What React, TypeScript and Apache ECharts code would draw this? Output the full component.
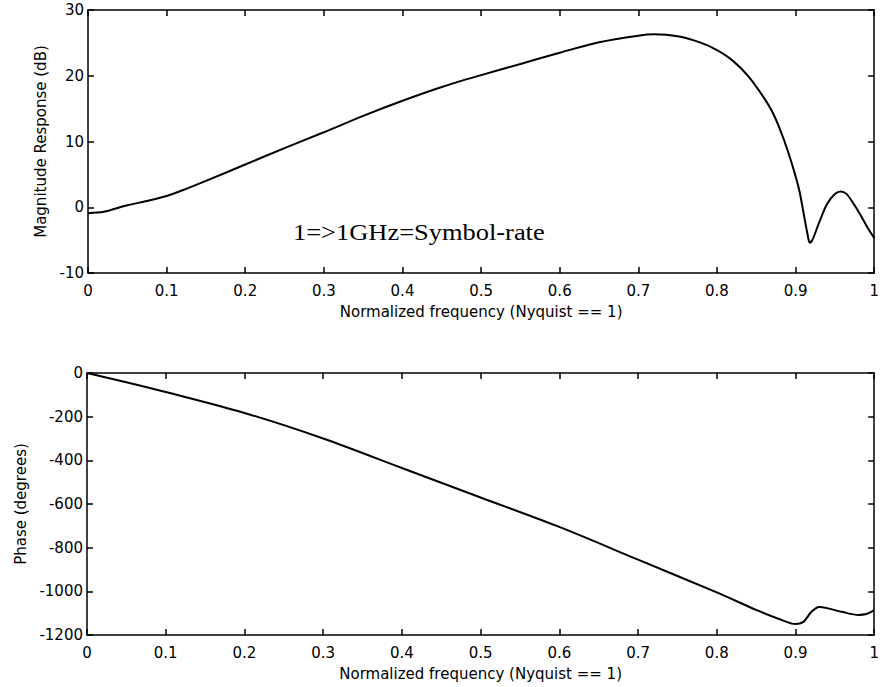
import React, { useEffect, useRef } from "react";
import * as echarts from "echarts";

const xTicks = [0, 0.1, 0.2, 0.3, 0.4, 0.5, 0.6, 0.7, 0.8, 0.9, 1];

const magFreq = [0, 0.02, 0.05, 0.075, 0.1, 0.125, 0.15, 0.2, 0.25, 0.3, 0.35, 0.4, 0.45, 0.5, 0.55, 0.6, 0.65, 0.7, 0.72, 0.75, 0.78, 0.8, 0.82, 0.84, 0.86, 0.87, 0.88, 0.89, 0.9, 0.905, 0.91, 0.915, 0.918, 0.922, 0.93, 0.94, 0.95, 0.957, 0.965, 0.975, 0.985, 0.993, 1.0];
const magDb = [-0.9, -0.7, 0.3, 0.95, 1.7, 2.8, 4.0, 6.5, 9.0, 11.4, 13.9, 16.2, 18.3, 20.1, 21.8, 23.5, 25.1, 26.1, 26.3, 26.0, 25.0, 23.9, 22.3, 19.9, 16.6, 14.6, 11.9, 8.6, 4.7, 2.4, -0.8, -4.0, -5.4, -4.8, -2.3, 0.5, 2.0, 2.4, 2.0, 0.3, -1.7, -3.4, -4.7];

const phaseFreq = [0, 0.05, 0.1, 0.2, 0.3, 0.4, 0.5, 0.6, 0.7, 0.8, 0.85, 0.88, 0.9, 0.91, 0.92, 0.93, 0.94, 0.96, 0.98, 0.99, 1.0];
const phaseDeg = [0, -42, -87, -183, -300, -435, -570, -705, -855, -1005, -1085, -1128, -1150, -1140, -1095, -1072, -1077, -1095, -1108, -1104, -1086];

const magTicks = { min: -10, max: 30, interval: 10 };
const phaseTicks = { min: -1200, max: 0, interval: 200 };

const xLabel = "Normalized frequency (Nyquist == 1)";
const magLabel = "Magnitude Response (dB)";
const phaseLabel = "Phase (degrees)";
const note = "1=>1GHz=Symbol-rate";

const FONT = "DejaVu Sans";

export default function App() {
  const ref = useRef<HTMLDivElement>(null);
  useEffect(() => {
    if (!ref.current) return;
    const chart = echarts.init(ref.current, null, { renderer: "svg" });
    const axisLine = { show: true, onZero: false, lineStyle: { color: "#000", width: 1.5 } };
    const tick = { show: true, inside: true, length: 6, lineStyle: { color: "#000", width: 1.5 } };
    const lbl = { color: "#000", fontFamily: FONT, fontSize: 15, formatter: (v: number) => String(Math.round(v * 1000) / 1000) };
    const mkX = (gi: number) => [
      {
        type: "value", gridIndex: gi, min: xTicks[0], max: xTicks[xTicks.length - 1], interval: 0.1,
        position: "bottom", axisLine, axisTick: tick, splitLine: { show: false },
        axisLabel: { ...lbl, margin: 10 },
        name: xLabel, nameLocation: "middle", nameGap: 31,
        nameTextStyle: { color: "#000", fontFamily: FONT, fontSize: 15 },
      },
      {
        type: "value", gridIndex: gi, min: 0, max: 1, interval: 0.1, position: "top",
        axisLine, axisTick: tick, axisLabel: { show: false }, splitLine: { show: false },
      },
    ];
    const mkY = (gi: number, t: any, name: string, gap: number) => [
      {
        type: "value", gridIndex: gi, min: t.min, max: t.max, interval: t.interval, position: "left",
        axisLine, axisTick: tick, splitLine: { show: false },
        axisLabel: { ...lbl, margin: 4 },
        name, nameLocation: "middle", nameGap: gap, nameRotate: 90,
        nameTextStyle: { color: "#000", fontFamily: FONT, fontSize: 15 },
      },
      {
        type: "value", gridIndex: gi, min: t.min, max: t.max, interval: t.interval, position: "right",
        axisLine, axisTick: tick, axisLabel: { show: false }, splitLine: { show: false },
      },
    ];
    chart.setOption({
      animation: false,
      backgroundColor: "#fff",
      grid: [
        { left: 88, right: 3, top: 10, height: 263 },
        { left: 87, right: 3, top: 373, height: 262 },
      ],
      xAxis: [...mkX(0), ...mkX(1)],
      yAxis: [...mkY(0, magTicks, magLabel, 34), ...mkY(1, phaseTicks, phaseLabel, 57)],
      series: [
        {
          type: "line", xAxisIndex: 0, yAxisIndex: 0, showSymbol: false, smooth: 0.3,
          lineStyle: { color: "#000", width: 2 },
          data: magFreq.map((f, i) => [f, magDb[i]]),
        },
        {
          type: "line", xAxisIndex: 2, yAxisIndex: 2, showSymbol: false, smooth: 0.3,
          lineStyle: { color: "#000", width: 2 },
          data: phaseFreq.map((f, i) => [f, phaseDeg[i]]),
        },
      ],
      graphic: [
        {
          type: "text", x: 293, y: 232, scaleX: 1.15,
          style: { text: note, fill: "#000", font: "23px 'Liberation Serif'", verticalAlign: "middle", align: "left" },
        },
      ],
    });
    return () => chart.dispose();
  }, []);
  return <div ref={ref} style={{ position: "fixed", left: 0, top: 0, width: 882, height: 687 }} />;
}
